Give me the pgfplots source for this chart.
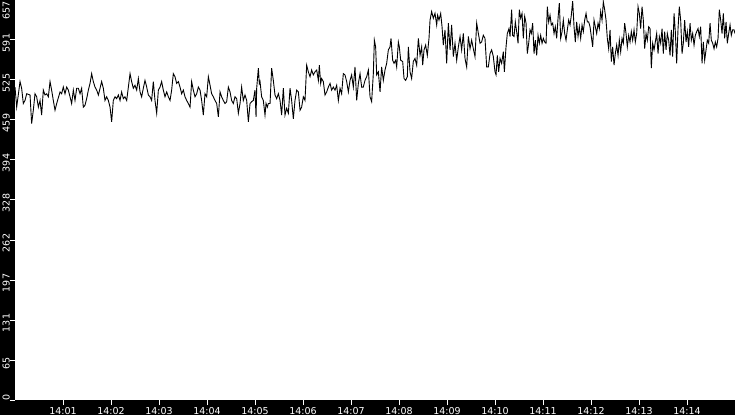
\documentclass[border=0pt]{standalone}
\usepackage{pgfplots}
\pgfplotsset{compat=1.18}
\usepackage{fontspec}
\setmainfont{DejaVu Sans}
\begin{document}
\begin{tikzpicture}
\fill[black] (0,0) rectangle (735pt,415pt);
\begin{axis}[
  at={(15pt,15pt)}, anchor=south west,
  scale only axis, width=720pt, height=400pt,
  xmin=0, xmax=900, ymin=0, ymax=657,
  axis background/.style={fill=white},
  axis line style={draw=none},
  tick align=outside, major tick length=5pt,
  every tick/.style={white, line width=1pt},
  xtick={60,120,180,240,300,360,420,480,540,600,660,720,780,840},
  xticklabels={14:01,14:02,14:03,14:04,14:05,14:06,14:07,14:08,14:09,14:10,14:11,14:12,14:13,14:14},
  xtick pos=bottom, ytick pos=left,
  xticklabel style={white, font=\fontsize{9.5}{9.5}\selectfont, inner sep=0pt, anchor=north, yshift=-2pt},
  ytick={0,65.7,131.4,197.1,262.8,328.5,394.2,459.9,525.6,591.3,657},
  yticklabels={\makebox[0pt][l]{\hspace{2.5pt}0},65,131,197,262,328,394,459,525,591,\makebox[0pt][r]{657\hspace{-1.5pt}}},
  yticklabel style={white, rotate=90, anchor=south, font=\fontsize{9.5}{9.5}\selectfont, inner sep=0pt, xshift=-3pt, yshift=0pt},
  clip=true,
]
\addplot[black, line width=0.9pt] coordinates {
(0,514)(2.1,481)(6.3,523)(8.3,512)(10.4,487)(12.5,492)(14.6,503)(18.8,501)(20.8,454)(22.9,476)
(25,503)(27.1,498)(29.2,481)(31.3,492)(33.3,468)(35.4,509)(37.5,501)(39.6,503)(41.7,498)(43.8,523)
(45.8,509)(47.9,492)(50,476)(52.1,487)(56.3,506)(58.3,503)(60.4,514)(62.5,503)(64.6,514)(66.7,509)
(68.8,498)(70.8,487)(72.9,509)(75,492)(77.1,512)(79.2,512)(81.3,503)(83.3,512)(85.4,481)(87.5,484)
(89.6,495)(91.7,509)(93.8,520)(95.8,536)(97.9,523)(100,514)(102.1,509)(104.2,501)(106.3,512)(108.3,523)
(110.4,512)(112.5,492)(114.6,498)(116.7,492)(118.8,481)(120.8,457)(122.9,492)(125,498)(127.1,495)(129.2,501)
(131.3,492)(133.3,506)(135.4,495)(137.5,498)(139.6,492)(141.7,514)(143.8,536)(145.8,523)(147.9,512)(150,517)
(152.1,509)(154.2,528)(156.3,506)(158.3,498)(160.4,512)(162.5,525)(164.6,514)(166.7,501)(168.8,498)(170.8,492)
(172.9,523)(175,492)(177.1,471)(179.2,509)(181.3,514)(183.3,523)(185.4,509)(187.5,498)(189.6,506)(191.7,498)
(193.8,492)(195.8,509)(197.9,536)(200,531)(202.1,520)(204.2,523)(206.3,514)(208.3,503)(210.4,509)(212.5,498)
(214.6,492)(216.7,487)(218.8,481)(220.8,523)(222.9,509)(225,498)(227.1,503)(229.2,514)(231.3,509)(233.3,492)
(235.4,468)(237.5,503)(239.6,498)(241.7,531)(243.8,517)(245.8,503)(247.9,498)(250,492)(252.1,487)(254.2,465)
(256.3,506)(258.3,498)(260.4,492)(262.5,487)(264.6,490)(266.7,514)(268.8,506)(270.8,492)(272.9,487)(275,498)
(277.1,495)(279.2,471)(281.3,487)(283.3,514)(285.4,492)(287.5,501)(289.6,492)(291.7,457)(293.8,487)(295.8,490)
(297.9,492)(300,509)(301.3,465)(302.1,512)(304.2,545)(305.4,520)(306.3,523)(308.3,498)(310.4,492)(312.5,468)
(313.8,487)(315.4,481)(316.7,487)(318.8,487)(320.8,545)(322.9,525)(325,501)(327.1,495)(329.2,503)(331.3,492)
(333.3,468)(335.4,512)(337.5,468)(339.6,479)(341.7,471)(343.8,512)(345.8,492)(347.9,462)(350,492)(352.1,509)
(354.2,506)(356.3,476)(358.3,481)(360.4,498)(362.5,492)(364.6,550)(366.7,539)(368.8,531)(370.8,542)(372.9,534)
(375,539)(377.1,542)(379.2,525)(380.4,550)(382.1,520)(383.3,528)(385.4,523)(387.5,501)(389.6,506)(391.7,514)
(393.8,520)(395.8,509)(397.9,514)(400,509)(402.1,517)(404.2,492)(406.3,512)(408.3,503)(410.4,536)(412.5,534)
(414.6,523)(416.7,506)(418.8,525)(420.8,534)(422.9,514)(425,547)(427.1,492)(429.2,520)(431.3,536)(433.3,514)
(435.4,514)(437.5,525)(439.6,531)(441.7,542)(443.8,498)(445.8,490)(447.9,536)(449.2,591)(450.8,580)(452.1,534)
(454.2,539)(456.3,506)(458.3,547)(460.4,525)(462.5,542)(464.6,553)(466.7,575)(468.8,580)(470,594)(472.1,558)
(473.8,553)(475.8,558)(477.1,547)(479.2,588)(480.4,580)(482.1,558)(484.6,556)(486.3,528)(488.3,525)(490.4,531)
(491.7,580)(493.8,539)(495.8,528)(497.9,556)(500,561)(502.1,550)(504.2,594)(506.3,566)(508.3,580)(509.6,550)
(511.3,575)(513.3,583)(515.4,566)(517.5,594)(518.8,624)(520.8,638)(522.9,627)(525,635)(527.1,616)(528.3,632)
(530,624)(532.1,635)(533.8,613)(535.4,583)(537.5,608)(539.6,553)(541.7,619)(543.8,575)(545.8,616)(547.9,564)
(550,586)(552.1,558)(554.2,580)(556.3,597)(558.3,575)(560.4,602)(562.5,561)(564.6,547)(566.7,597)(568.8,577)
(570.8,591)(572.9,577)(575,564)(577.1,619)(579.2,602)(581.3,586)(583.3,588)(585.4,599)(587.5,594)(589.6,547)
(591.7,547)(593.8,569)(595.8,575)(597.9,564)(600,539)(601.3,534)(602.9,566)(604.6,539)(606.3,561)(608.3,553)
(610.4,572)(611.7,539)(613.8,580)(615.4,602)(617.5,610)(618.8,597)(620.8,641)(622.1,599)(623.8,597)(625.4,621)
(627.1,605)(628.8,586)(630.4,641)(632.1,627)(633.8,635)(635.4,594)(637.1,630)(638.8,619)(640.4,569)(642.1,586)
(643.8,608)(645.4,602)(647.1,619)(648.8,569)(650.4,591)(652.1,566)(653.8,599)(655.4,586)(657.1,599)(658.8,586)
(660.4,594)(662.1,588)(663.8,586)(665.4,646)(667.1,621)(668.8,632)(670.4,616)(672.1,619)(673.8,602)(675.4,613)
(677.1,594)(678.8,627)(680.4,652)(682.1,594)(683.8,605)(685.4,624)(687.1,602)(688.8,591)(690.4,608)(692.1,624)
(693.8,616)(695.4,632)(697.1,655)(698.8,613)(700.4,588)(702.1,621)(703.8,597)(705.4,613)(707.1,594)(708.8,616)
(710.4,605)(712.1,624)(713.8,635)(715.4,621)(717.1,621)(718.8,613)(720.4,597)(722.1,580)(723.8,624)(725.4,613)
(727.1,602)(728.8,619)(730.4,610)(732.1,638)(733.8,624)(735.4,654)(737.1,641)(738.8,624)(740.4,594)(742.1,577)
(743.8,608)(745.4,556)(747.1,580)(748.8,550)(750.4,569)(752.1,583)(753.8,566)(755.4,591)(757.1,572)(758.8,594)
(760.4,586)(762.1,619)(763.8,602)(765.4,580)(767.1,599)(768.8,588)(770.4,605)(772.1,591)(773.8,608)(775.4,588)
(777.1,602)(778.8,646)(780.4,635)(782.1,610)(783.8,646)(785.4,624)(787.1,577)(788.8,602)(790.4,591)(792.1,613)
(793.8,610)(795.4,545)(797.1,586)(798.8,575)(800.4,588)(802.1,602)(803.8,569)(805.4,597)(807.1,586)(808.8,610)
(810.4,569)(812.1,605)(813.8,575)(815.4,602)(817.1,591)(818.8,566)(820.4,608)(822.1,564)(823.8,635)(825.4,605)
(827.1,553)(828.8,610)(830.4,646)(832.1,624)(833.8,569)(835.4,586)(837.1,624)(838.8,588)(840.4,605)(842.1,580)
(843.8,619)(845.4,591)(847.1,602)(848.8,583)(850.4,599)(852.1,605)(853.8,610)(855.4,597)(857.1,613)(858.8,553)
(860.4,588)(862.1,558)(863.8,575)(865.4,591)(867.1,586)(868.8,619)(870.4,591)(872.1,586)(873.8,577)(875.4,588)
(877.1,580)(878.8,594)(880.4,641)(882.1,624)(883.8,602)(885.4,635)(887.1,594)(888.8,621)(890.4,586)(892.1,602)
(893.8,616)(895.4,599)(897.1,608)(898.8,608)(900,602)
};
\end{axis}
\pgfresetboundingbox
\useasboundingbox (0,0) rectangle (735pt,415pt);
\end{tikzpicture}
\end{document}
